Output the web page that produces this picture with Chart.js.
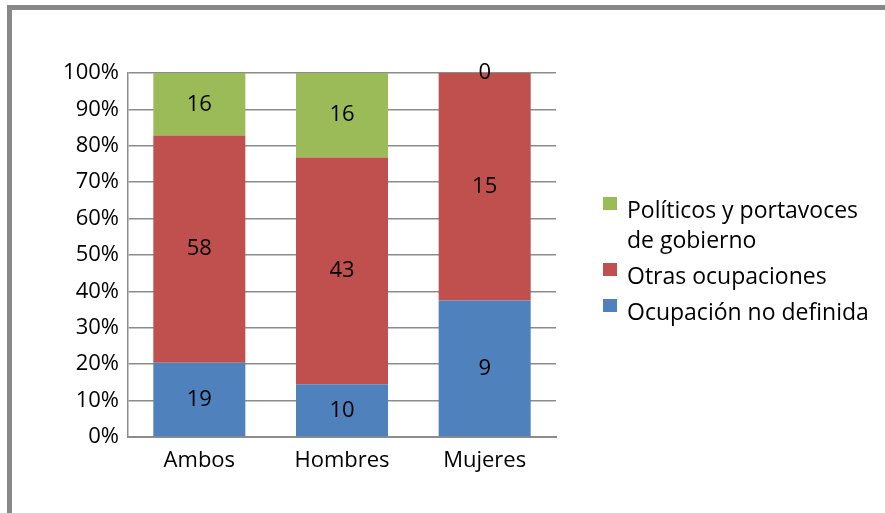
<!DOCTYPE html>
<html>
<head>
<meta charset="utf-8">
<script src="https://cdn.jsdelivr.net/npm/chart.js@4.4.0/dist/chart.umd.min.js"></script>
<style>
  html, body { margin: 0; padding: 0; background: #fff; }
  #wrap { position: relative; width: 885px; height: 513px; overflow: hidden; }
  #frame {
    position: absolute; left: 7px; top: 5px; width: 900px; height: 600px;
    border-left: 5px solid #888; border-top: 5px solid #888;
  }
  #chart { position: absolute; left: 0; top: 0; }
  #legend {
    position: absolute; left: 603px; top: 194px; width: 280px;
    font-family: "Open Sans", sans-serif; font-size: 23px; color: #000;
  }
  .item { position: relative; padding-left: 24px; line-height: 30px; margin-bottom: 6px; width: 245px; }
  .box { position: absolute; left: 0; top: 3px; width: 14px; height: 13px; }
</style>
</head>
<body>
<div id="wrap">
  <div id="frame"></div>
  <canvas id="chart" width="885" height="513"></canvas>
  <div id="legend"></div>
</div>
<script>
const categories = ["Ambos", "Hombres", "Mujeres"];
const noDefinida = [19, 10, 9];
const otras = [58, 43, 15];
const politicos = [16, 16, 0];
const seriesNames = ["Ocupación no definida", "Otras ocupaciones", "Políticos y portavoces de gobierno"];
const seriesColors = ["#4f81bd", "#c0504d", "#9bbb59"];
const tickFont = { family: "Open Sans", size: 22 };

const counts = [noDefinida, otras, politicos];
const totals = categories.map((_, i) => counts.reduce((s, arr) => s + arr[i], 0));
const toPct = (arr) => arr.map((v, i) => (v / totals[i]) * 100);

// draw the raw counts in the middle of each segment
const segmentLabels = {
  id: "segmentLabels",
  afterDatasetsDraw(chart) {
    const { ctx } = chart;
    ctx.save();
    ctx.font = `${tickFont.size}px "${tickFont.family}"`;
    ctx.fillStyle = "#000";
    ctx.textAlign = "center";
    ctx.textBaseline = "middle";
    chart.data.datasets.forEach((ds, di) => {
      chart.getDatasetMeta(di).data.forEach((bar, i) => {
        const y = (bar.y + bar.base) / 2;
        ctx.fillText(String(ds.counts[i]), bar.x, y);
      });
    });
    ctx.restore();
  },
};

new Chart(document.getElementById("chart"), {
  type: "bar",
  data: {
    labels: categories,
    datasets: counts.map((arr, k) => ({
      label: seriesNames[k],
      data: toPct(arr),
      counts: arr,
      backgroundColor: seriesColors[k],
      categoryPercentage: 0.645,
      barPercentage: 1,
    })),
  },
  options: {
    responsive: false,
    animation: false,
    layout: { padding: { left: 20, top: 73, right: 329, bottom: 0 } },
    plugins: { legend: { display: false }, tooltip: { enabled: false } },
    scales: {
      x: {
        stacked: true,
        grid: { display: false, drawTicks: false },
        border: { color: "#8c8c8c", width: 2 },
        ticks: { color: "#000", font: tickFont, padding: 11 },
        afterFit: (scale) => { scale.height = 76; },
      },
      y: {
        stacked: true,
        min: 0,
        max: 100,
        ticks: { stepSize: 10, color: "#000", font: tickFont, padding: 9, callback: (v) => v + "%" },
        grid: { color: "#8c8c8c", lineWidth: 1.5, drawTicks: false },
        border: { color: "#8c8c8c", width: 1.5 },
        afterFit: (scale) => { scale.width = 108; },
      },
    },
  },
  plugins: [segmentLabels],
});

// legend, top to bottom in reverse stack order
const legend = document.getElementById("legend");
[2, 1, 0].forEach((k) => {
  const item = document.createElement("div");
  item.className = "item";
  item.innerHTML = `<span class="box" style="background:${seriesColors[k]}"></span>${seriesNames[k]}`;
  legend.appendChild(item);
});
</script>
</body>
</html>
